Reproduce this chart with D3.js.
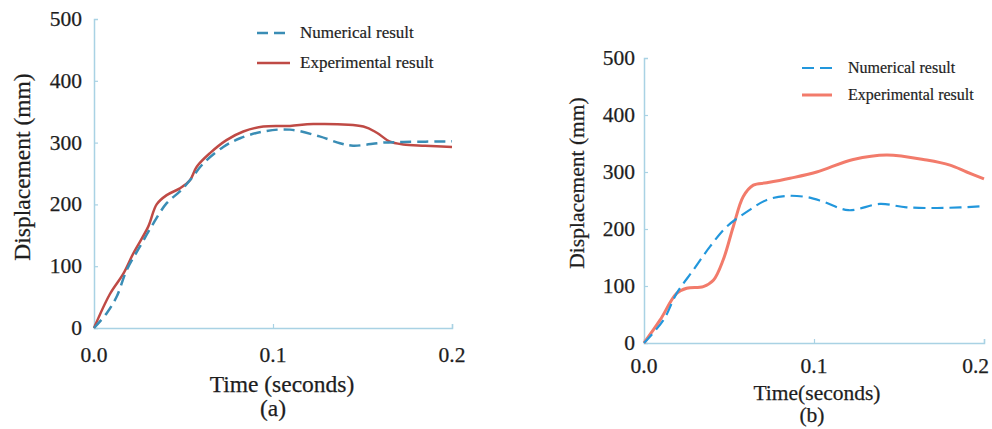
<!DOCTYPE html>
<html>
<head>
<meta charset="utf-8">
<script src="https://cdn.jsdelivr.net/npm/d3@7"></script>
<style>
html,body{margin:0;padding:0;background:#fff;}
svg{display:block;font-family:"Liberation Serif","Times New Roman",serif;}
</style>
</head>
<body>
<svg id="chart" width="992" height="429"></svg>
<script>
// ---------- DATA ----------
const xTicks = [0, 0.1, 0.2];
const xTickLabels = ["0.0", "0.1", "0.2"];
const yTicks = [0, 100, 200, 300, 400, 500];
const seriesNames = ["Numerical result", "Experimental result"];
const xLabelA = "Time (seconds)";
const xLabelB = "Time(seconds)";
const yLabel = "Displacement (mm)";

// Panel (a)
const aNumT = [0, 0.0071, 0.0127, 0.0183, 0.0257, 0.0331, 0.0406, 0.048, 0.0536, 0.061, 0.0722, 0.0816, 0.0946, 0.1095, 0.126, 0.1374, 0.1447, 0.1616, 0.1728, 0.2];
const aNumV = [0, 24, 51, 94, 132, 169, 202, 221, 239, 266, 293, 307, 318, 321, 310, 299, 295, 300, 301, 302];
const aExpT = [0, 0.0089, 0.0164, 0.022, 0.0303, 0.035, 0.0406, 0.048, 0.0536, 0.0574, 0.0648, 0.074, 0.0834, 0.0946, 0.1095, 0.1225, 0.1505, 0.158, 0.165, 0.1728, 0.185, 0.2];
const aExpV = [0, 55, 88, 121, 164, 200, 215, 226, 239, 261, 283, 304, 318, 326, 327, 330, 326, 316, 302, 297, 295, 293];

// Panel (b)
const bNumT = [0, 0.0114, 0.0192, 0.029, 0.0388, 0.0486, 0.0604, 0.0722, 0.0839, 0.0957, 0.1055, 0.1202, 0.1388, 0.1545, 0.176, 0.2];
const bNumV = [0, 40, 87, 128, 169, 204, 230, 251, 258, 256, 248, 233, 244, 238, 237, 240];
const bExpT = [0, 0.0094, 0.0192, 0.0251, 0.0349, 0.0408, 0.0466, 0.0525, 0.0584, 0.0643, 0.0722, 0.0859, 0.1016, 0.1231, 0.1428, 0.1663, 0.18, 0.1898, 0.2];
const bExpV = [0, 40, 87, 96, 99, 110, 146, 204, 257, 277, 281, 289, 300, 322, 330, 321, 312, 300, 288];

// ---------- DRAW ----------
const svg = d3.select("#chart");
const axisColor = "#a9d2e4";
const textColor = "#1e1e1e";

const panels = [
  {
    x0: 94, x1: 452, y0: 328, y1: 19,
    num: aNumT.map((t, i) => [t, aNumV[i]]),
    exp: aExpT.map((t, i) => [t, aExpV[i]]),
    numColor: "#3a8db5", expColor: "#bf4a45",
    numWidth: 2.5, expWidth: 2.5, dash: "11,6",
    tickFont: 21.5, tickRight: 82, xTickBase: 362, lastTickEnd: null,
    xLabel: xLabelA, xLabelX: 282, xLabelBase: 392,
    tag: "(a)", tagX: 273, tagBase: 416,
    yLabelX: 30, yLabelY: 167, labelFont: 23.5,
    legX0: 257, legX1: 290, legY: [33, 63], legTextX: 300, legFont: 17
  },
  {
    x0: 644, x1: 984, y0: 343, y1: 58,
    num: bNumT.map((t, i) => [t, bNumV[i]]),
    exp: bExpT.map((t, i) => [t, bExpV[i]]),
    numColor: "#2297dc", expColor: "#f27b6b",
    numWidth: 2.2, expWidth: 3, dash: "12,6",
    tickFont: 21.5, tickRight: 635, xTickBase: 373, lastTickEnd: 989,
    xLabel: xLabelB, xLabelX: 817, xLabelBase: 400,
    tag: "(b)", tagX: 812, tagBase: 422,
    yLabelX: 584, yLabelY: 183, labelFont: 21.5,
    legX0: 802, legX1: 832, legY: [68, 95], legTextX: 848, legFont: 16
  }
];

panels.forEach(p => {
  const x = d3.scaleLinear().domain([0, 0.2]).range([p.x0, p.x1]);
  const y = d3.scaleLinear().domain([0, 500]).range([p.y0, p.y1]);
  const g = svg.append("g");

  // axes
  const xAxis = g.append("g").attr("transform", `translate(0,${p.y0})`)
    .call(d3.axisBottom(x).tickValues(xTicks).tickSize(-4).tickFormat(""));
  const yAxis = g.append("g").attr("transform", `translate(${p.x0},0)`)
    .call(d3.axisLeft(y).tickValues(yTicks).tickSize(-4).tickFormat(""));
  [xAxis, yAxis].forEach(a => {
    a.select(".domain").attr("stroke", axisColor).attr("stroke-width", 1.5);
    a.selectAll(".tick line").attr("stroke", axisColor).attr("stroke-width", 1.2);
  });
  xAxis.selectAll(".tick").filter(d => d === 0).select("line").remove();
  yAxis.selectAll(".tick").filter(d => d === 0 || d === 500).select("line").remove();

  // tick labels
  g.selectAll(".ylab").data(yTicks).enter().append("text")
    .attr("x", p.tickRight).attr("y", d => y(d) + 7)
    .attr("text-anchor", "end").attr("font-size", p.tickFont).attr("fill", textColor)
    .attr("stroke", textColor).attr("stroke-width", 0.25)
    .text(d => d);
  g.selectAll(".xlab").data(xTicks).enter().append("text")
    .attr("x", (d, i) => (p.lastTickEnd && i === xTicks.length - 1) ? p.lastTickEnd : x(d))
    .attr("y", p.xTickBase)
    .attr("text-anchor", (d, i) => (p.lastTickEnd && i === xTicks.length - 1) ? "end" : "middle")
    .attr("font-size", p.tickFont).attr("fill", textColor)
    .attr("stroke", textColor).attr("stroke-width", 0.25)
    .text((d, i) => xTickLabels[i]);

  // axis titles
  g.append("text").attr("x", p.xLabelX).attr("y", p.xLabelBase)
    .attr("text-anchor", "middle").attr("font-size", p.labelFont).attr("fill", textColor)
    .attr("stroke", textColor).attr("stroke-width", 0.25)
    .text(p.xLabel);
  g.append("text").attr("x", p.tagX).attr("y", p.tagBase)
    .attr("text-anchor", "middle").attr("font-size", p.labelFont).attr("fill", textColor)
    .attr("stroke", textColor).attr("stroke-width", 0.25)
    .text(p.tag);
  g.append("text")
    .attr("transform", `translate(${p.yLabelX},${p.yLabelY}) rotate(-90)`)
    .attr("text-anchor", "middle").attr("font-size", p.labelFont).attr("fill", textColor)
    .attr("stroke", textColor).attr("stroke-width", 0.25)
    .text(yLabel);

  // lines
  const line = d3.line().x(d => x(d[0])).y(d => y(d[1])).curve(d3.curveCatmullRom.alpha(0.5));
  g.append("path").datum(p.exp).attr("d", line).attr("fill", "none")
    .attr("stroke", p.expColor).attr("stroke-width", p.expWidth).attr("stroke-linejoin", "round");
  g.append("path").datum(p.num).attr("d", line).attr("fill", "none")
    .attr("stroke", p.numColor).attr("stroke-width", p.numWidth).attr("stroke-dasharray", p.dash);

  // legend
  const styles = [
    {c: p.numColor, w: p.numWidth, d: p.dash},
    {c: p.expColor, w: p.expWidth, d: null}
  ];
  seriesNames.forEach((name, i) => {
    g.append("line").attr("x1", p.legX0).attr("x2", p.legX1)
      .attr("y1", p.legY[i]).attr("y2", p.legY[i])
      .attr("stroke", styles[i].c).attr("stroke-width", styles[i].w)
      .attr("stroke-dasharray", styles[i].d);
    g.append("text").attr("x", p.legTextX).attr("y", p.legY[i] + 5)
      .attr("font-size", p.legFont).attr("fill", textColor)
      .attr("stroke", textColor).attr("stroke-width", 0.2)
      .text(name);
  });
});
</script>
</body>
</html>
